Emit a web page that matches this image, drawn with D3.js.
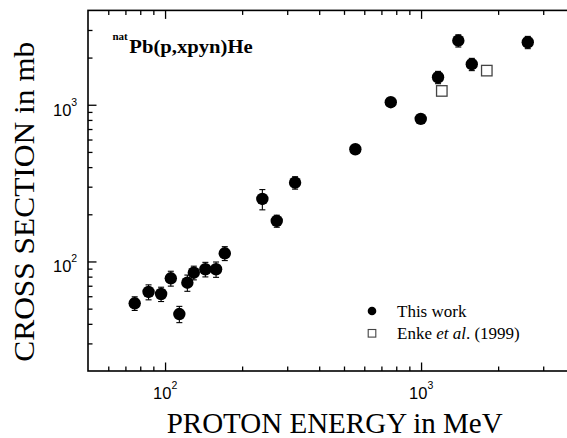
<!DOCTYPE html>
<html>
<head>
<meta charset="utf-8">
<script src="https://cdn.jsdelivr.net/npm/d3@7"></script>
<style>
  body { margin: 0; background: #fff; }
  svg { display: block; }
</style>
</head>
<body>
<svg id="chart" width="567" height="438"></svg>
<script>
// natPb(p,xpyn)He production cross sections vs proton energy

// This work: proton energy (MeV), cross section (mb), uncertainty (mb)
const energyThisWork = [76.1, 86.2, 96.5, 105.3, 113.7, 122.2, 129.5, 143.7, 158.2, 171.1,
                        239.9, 273.1, 322, 553.7, 761.5, 997, 1165, 1398, 1578, 2611];
const sigmaThisWork  = [54.1, 63.9, 62.0, 78.1, 46.2, 73.2, 84.8, 89.2, 89.2, 112.8,
                        250.5, 181.3, 318.4, 520, 1038, 812, 1498, 2565, 1814, 2505];
const errThisWork    = [5.4, 7.0, 6.5, 8.5, 5.5, 8.7, 8.5, 9.5, 10, 11.5,
                        37, 16, 29, 26, 52, 40, 135, 230, 163, 225];

// Enke et al. (1999)
const energyEnke = [1205, 1806];
const sigmaEnke  = [1225, 1651];

// Axis ticks
const xMajorTicks = [100, 1000];
const xMinorTicks = [60, 70, 80, 90, 200, 300, 400, 500, 600, 700, 800, 900, 2000, 3000];
const yMajorTicks = [100, 1000];
const yMinorTicks = [30, 40, 50, 60, 70, 80, 90, 200, 300, 400, 500, 600, 700, 800, 900, 2000, 3000];
const xTickLabels = [["10", "2"], ["10", "3"]];
const yTickLabels = [["10", "2"], ["10", "3"]];

// Text
const xTitle = "PROTON ENERGY in MeV";
const yTitle = "CROSS SECTION in mb";
const reactionPrefix = "nat";
const reactionText = "Pb(p,xpyn)He";
const legendLabels = ["This work", "Enke", " et al", ". (1999)"];

const serif = "'Liberation Serif', 'Times New Roman', Times, serif";
const sans = "'Liberation Sans', Arial, Helvetica, sans-serif";

const svg = d3.select("#chart");

const plot = { left: 88, right: 575.2, top: 10.4, bottom: 371 };

const x = d3.scaleLog().domain([50, 4000]).range([plot.left, plot.right]);
const y = d3.scaleLog().domain([20, 4000]).range([plot.bottom, plot.top]);

// Frame
svg.append("rect")
  .attr("x", plot.left).attr("y", plot.top)
  .attr("width", plot.right - plot.left).attr("height", plot.bottom - plot.top)
  .attr("fill", "none").attr("stroke", "#000").attr("stroke-width", 1.6);

// Inward ticks on bottom, top and left sides
function tickAxis(axisFn, scale, values, size, transform) {
  const g = svg.append("g")
    .attr("transform", transform)
    .call(axisFn(scale).tickValues(values).tickSizeInner(-size).tickSizeOuter(0).tickFormat(""));
  g.select(".domain").remove();
  g.selectAll(".tick line").attr("stroke", "#000").attr("stroke-width", 1.3);
  return g;
}
tickAxis(d3.axisBottom, x, xMinorTicks, 4.5, `translate(0,${plot.bottom})`);
tickAxis(d3.axisBottom, x, xMajorTicks, 8.5, `translate(0,${plot.bottom})`);
tickAxis(d3.axisTop, x, xMinorTicks, 4.5, `translate(0,${plot.top})`);
tickAxis(d3.axisTop, x, xMajorTicks, 8.5, `translate(0,${plot.top})`);
tickAxis(d3.axisLeft, y, yMinorTicks, 4.5, `translate(${plot.left},0)`);
tickAxis(d3.axisLeft, y, yMajorTicks, 8.5, `translate(${plot.left},0)`);

// Power-of-ten tick labels
xMajorTicks.forEach((v, i) => {
  const t = svg.append("text")
    .attr("x", x(v) - 12).attr("y", 398.5)
    .attr("font-family", sans).attr("font-size", 16.5).attr("fill", "#000");
  t.append("tspan").text(xTickLabels[i][0]);
  t.append("tspan").attr("dy", -10).attr("font-size", 10.5).text(xTickLabels[i][1]);
});
yMajorTicks.forEach((v, i) => {
  const t = svg.append("text")
    .attr("x", 53).attr("y", y(v) + 11)
    .attr("font-family", sans).attr("font-size", 16.5).attr("fill", "#000");
  t.append("tspan").text(yTickLabels[i][0]);
  t.append("tspan").attr("dy", -10).attr("font-size", 10.5).text(yTickLabels[i][1]);
});

// Axis titles
svg.append("text")
  .attr("x", 166.7).attr("y", 432.5)
  .attr("font-family", serif).attr("font-size", 30)
  .attr("textLength", 336).attr("lengthAdjust", "spacingAndGlyphs")
  .attr("fill", "#000").text(xTitle);

svg.append("text")
  .attr("transform", "translate(34,361.7) rotate(-90)")
  .attr("x", 0).attr("y", 0)
  .attr("font-family", serif).attr("font-size", 30)
  .attr("textLength", 320).attr("lengthAdjust", "spacingAndGlyphs")
  .attr("fill", "#000").text(yTitle);

// Reaction label
svg.append("text")
  .attr("x", 112.5).attr("y", 39.5)
  .attr("font-family", serif).attr("font-weight", "bold").attr("font-size", 11)
  .attr("fill", "#000").text(reactionPrefix);
svg.append("text")
  .attr("x", 129.3).attr("y", 53.3)
  .attr("font-family", serif).attr("font-weight", "bold").attr("font-size", 18)
  .attr("textLength", 123.4).attr("lengthAdjust", "spacingAndGlyphs")
  .attr("fill", "#000").text(reactionText);

// Error bars for this work
const rows = energyThisWork.map((e, i) => ({ e, s: sigmaThisWork[i], err: errThisWork[i] }));
const eb = svg.append("g").attr("stroke", "#000").attr("stroke-width", 1.1);
rows.forEach(d => {
  const cx = x(d.e), y1 = y(d.s + d.err), y2 = y(d.s - d.err);
  eb.append("line").attr("x1", cx).attr("x2", cx).attr("y1", y1).attr("y2", y2);
  eb.append("line").attr("x1", cx - 3).attr("x2", cx + 3).attr("y1", y1).attr("y2", y1);
  eb.append("line").attr("x1", cx - 3).attr("x2", cx + 3).attr("y1", y2).attr("y2", y2);
});

// Markers: this work
svg.append("g").selectAll("circle").data(rows).join("circle")
  .attr("cx", d => x(d.e)).attr("cy", d => y(d.s)).attr("r", 6.2).attr("fill", "#000");

// Markers: Enke et al.
const enke = energyEnke.map((e, i) => ({ e, s: sigmaEnke[i] }));
const sq = 10.5;
svg.append("g").selectAll("rect").data(enke).join("rect")
  .attr("x", d => x(d.e) - sq / 2).attr("y", d => y(d.s) - sq / 2)
  .attr("width", sq).attr("height", sq)
  .attr("fill", "#fff").attr("stroke", "#444").attr("stroke-width", 1.3);

// Legend
svg.append("circle").attr("cx", 372).attr("cy", 311).attr("r", 4.3).attr("fill", "#000");
svg.append("rect").attr("x", 368.2).attr("y", 329.5).attr("width", 7.6).attr("height", 7.6)
  .attr("fill", "#fff").attr("stroke", "#444").attr("stroke-width", 1.1);
svg.append("text")
  .attr("x", 397).attr("y", 316.7)
  .attr("font-family", serif).attr("font-size", 17).attr("fill", "#000")
  .text(legendLabels[0]);
const lt = svg.append("text")
  .attr("x", 397).attr("y", 339.3)
  .attr("font-family", serif).attr("font-size", 17).attr("fill", "#000");
lt.append("tspan").text(legendLabels[1]);
lt.append("tspan").attr("font-style", "italic").text(legendLabels[2]);
lt.append("tspan").text(legendLabels[3]);
</script>
</body>
</html>
